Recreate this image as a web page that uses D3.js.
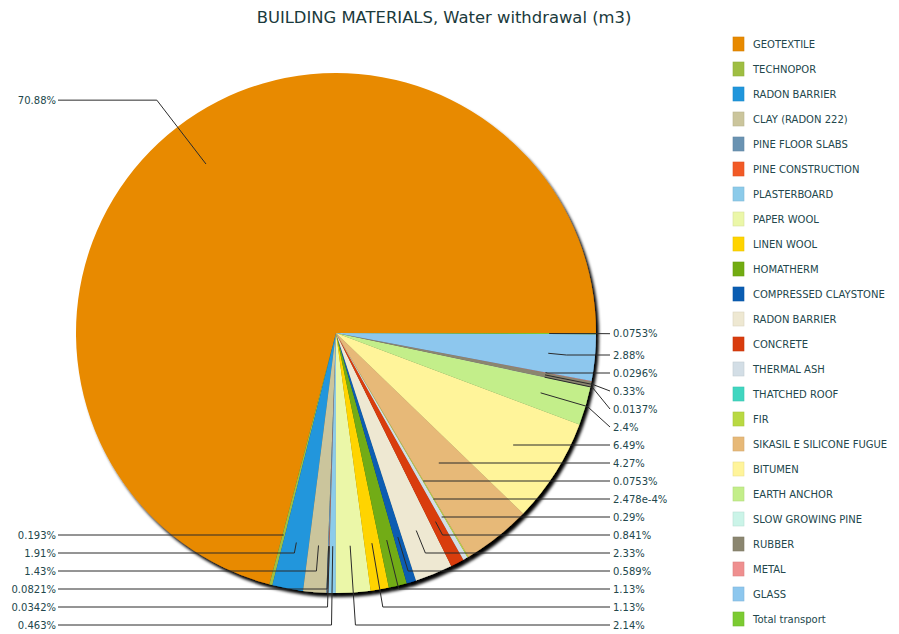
<!DOCTYPE html>
<html>
<head>
<meta charset="utf-8">
<script src="https://cdn.jsdelivr.net/npm/d3@7/dist/d3.min.js"></script>
<style>
  html, body { margin: 0; padding: 0; background: #fff; }
  svg { display: block; font-family: "DejaVu Sans", Verdana, sans-serif; }
</style>
</head>
<body>
<svg id="chart" width="899" height="634"></svg>
<script>
// Share of water withdrawal per building material (percent)
const materials = [
  "GEOTEXTILE", "TECHNOPOR", "RADON BARRIER", "CLAY (RADON 222)", "PINE FLOOR SLABS",
  "PINE CONSTRUCTION", "PLASTERBOARD", "PAPER WOOL", "LINEN WOOL", "HOMATHERM",
  "COMPRESSED CLAYSTONE", "RADON BARRIER", "CONCRETE", "THERMAL ASH", "THATCHED ROOF",
  "FIR", "SIKASIL E SILICONE FUGUE", "BITUMEN", "EARTH ANCHOR", "SLOW GROWING PINE",
  "RUBBER", "METAL", "GLASS", "Total transport"
];
const shares = [
  70.88, 0.193, 1.91, 1.43, 0.0821,
  0.0342, 0.463, 2.14, 1.13, 1.13,
  0.589, 2.33, 0.841, 0.29, 2.478e-4,
  0.0753, 4.27, 6.49, 2.4, 0.0137,
  0.33, 0.0296, 2.88, 0.0753
];
const colors = [
  "#e88a00", "#9fbe42", "#2096dc", "#cbc59c", "#6a93b2",
  "#f25a26", "#8ccbea", "#ebf7a8", "#ffd400", "#72ac12",
  "#0a5db2", "#eee8d2", "#d93c0e", "#d3dee6", "#40d6c0",
  "#b9d942", "#e7b978", "#fff49a", "#c3ee8a", "#cbf4e8",
  "#8b8670", "#ef8f8f", "#8dc7ee", "#7ccb32"
];
const title = "BUILDING MATERIALS, Water withdrawal (m3)";

const svg = d3.select("#chart");
const cx = 336, cy = 333, R = 260;

const fmt = v => (v < 0.001 ? v.toExponential() : String(v)) + "%";

// Drop shadow under the pie
const defs = svg.append("defs");
const f = defs.append("filter").attr("id", "pieShadow")
  .attr("x", "-10%").attr("y", "-10%").attr("width", "120%").attr("height", "120%");
f.append("feDropShadow").attr("dx", 3).attr("dy", 4).attr("stdDeviation", 1.8)
  .attr("flood-color", "#000").attr("flood-opacity", 1);

svg.append("text")
  .attr("x", 444).attr("y", 23)
  .attr("text-anchor", "middle")
  .attr("font-size", 16.4)
  .attr("fill", "#1b3a3c")
  .text(title);

const data = materials.map((name, i) => ({ name, value: shares[i], color: colors[i], i }));

// Slices start at 3 o'clock and run counter-clockwise in legend order
const pie = d3.pie().sort(null).value(d => d.value)
  .startAngle(Math.PI / 2).endAngle(Math.PI / 2 - 2 * Math.PI);
const arcs = pie(data);
const arc = d3.arc().innerRadius(0).outerRadius(R);

const g = svg.append("g").attr("transform", `translate(${cx},${cy})`);
g.append("g").attr("filter", "url(#pieShadow)")
  .selectAll("path").data(arcs).join("path")
  .attr("d", arc)
  .attr("fill", d => d.data.color);

// Label layout: natural position on the mid-angle ray, then stacked per side
const GAP = 18, MAXY = 625;
const labels = arcs.map(a => {
  const m = (a.startAngle + a.endAngle) / 2;
  const dx = Math.sin(m), dy = -Math.cos(m);
  return { a, dx, dy, side: dx >= 0 ? "R" : "L", ny: cy + dy * R * 1.13 };
});
["R", "L"].forEach(side => {
  const list = labels.filter(lb => lb.side === side).sort((p, q) => p.ny - q.ny);
  list.forEach((lb, k) => { lb.y = k ? Math.max(lb.ny, list[k - 1].y + GAP) : lb.ny; });
  for (let k = list.length - 1; k >= 0; k--) {
    const lb = list[k];
    lb.y = Math.min(lb.y, k === list.length - 1 ? MAXY : list[k + 1].y - GAP);
  }
});

// Connectors: from inside the slice along its mid-angle ray, then across to the label
const END_R = 610, END_L = 58;
const line = d3.line();
const lg = svg.append("g");
labels.forEach(lb => {
  const endX = lb.side === "R" ? END_R : END_L;
  const inner = [cx + lb.dx * R * 0.82, cy + lb.dy * R * 0.82];
  const d = (lb.y - cy) / lb.dy;
  let pts;
  if (!isFinite(d) || d < R * 0.6) {
    pts = [inner, [endX, lb.y]];
  } else {
    let P = [cx + lb.dx * d, lb.y];
    const tooFar = lb.side === "R" ? P[0] > endX - 12 : P[0] < endX + 12;
    if (tooFar) P = [cx + lb.dx * (R + 2), cy + lb.dy * (R + 2)];
    pts = d <= R * 0.82 && !tooFar ? [P, [endX, lb.y]] : [inner, P, [endX, lb.y]];
  }
  lg.append("path").attr("d", line(pts))
    .attr("fill", "none").attr("stroke", "#2b2b2b").attr("stroke-width", 1);
  lg.append("text")
    .attr("x", lb.side === "R" ? endX + 3 : endX - 2)
    .attr("y", lb.y).attr("dy", "0.35em")
    .attr("text-anchor", lb.side === "R" ? "start" : "end")
    .attr("font-size", 10).attr("fill", "#22474c")
    .text(fmt(lb.a.data.value));
});

// Legend
const legend = svg.append("g").attr("transform", "translate(733,44)");
const rows = legend.selectAll("g").data(data).join("g")
  .attr("transform", (d, i) => `translate(0,${i * 25})`);
rows.append("rect")
  .attr("x", 0).attr("y", -7).attr("width", 11).attr("height", 14)
  .attr("fill", d => d.color)
  .attr("stroke", d => d3.color(d.color).darker(0.25)).attr("stroke-width", 0.6);
rows.append("text")
  .attr("x", 20).attr("y", 0).attr("dy", "0.35em")
  .attr("font-size", 10).attr("fill", "#22474c")
  .text(d => d.name);
</script>
</body>
</html>
